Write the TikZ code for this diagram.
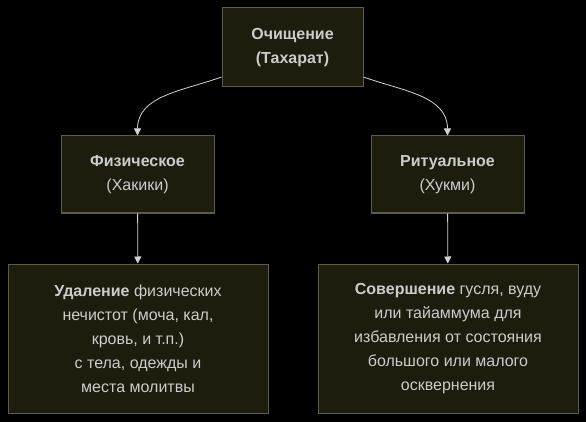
\documentclass[tikz,border=0pt]{standalone}
\usepackage{fontspec}
\setmainfont{Liberation Sans}
\usetikzlibrary{arrows.meta}
\definecolor{bgdark}{HTML}{000000}
\definecolor{boxfill}{HTML}{1E1C0C}
\definecolor{boxline}{HTML}{5A5E42}
\definecolor{txtgray}{HTML}{CCCCCC}
\definecolor{linegray}{HTML}{D3D3D3}

\begin{document}
\begin{tikzpicture}[x=1pt,y=-1pt,
        box/.style={draw=boxline, fill=boxfill, line width=1pt, text=txtgray, align=center,
            font=\fontsize{16}{24}\selectfont, inner sep=0pt},
        edge/.style={draw=linegray, line width=0.8pt, -{Triangle[width=7pt,length=7pt]}}]

            \fill[bgdark] (0,0) rectangle (586,422);
            \useasboundingbox (0,0) rectangle (586,422);

            \node[box, minimum width=141pt, minimum height=79pt] (tahara) at (292.5,47.5) {\textbf{Очищение}\\\textbf{(Тахарат)}};

            \node[box, minimum width=153pt, minimum height=77pt] (haqiqi) at (137.5,174.5) {\textbf{Физическое}\\(Хакики)};
            \node[box, minimum width=153pt, minimum height=77pt] (hukmi) at (447.5,174.5) {\textbf{Ритуальное}\\(Хукми)};

            \node[box, minimum width=260pt, minimum height=149pt] (physdesc) at (138,338.5) {\textbf{Удаление} физических\\нечистот (моча, кал,\\кровь, и т.п.)\\с тела, одежды и\\места молитвы};
            \node[box, minimum width=260pt, minimum height=149pt] (ritdesc) at (448,338.5) {\textbf{Совершение} гусля, вуду\\или тайаммума для\\избавления от состояния\\большого или малого\\осквернения};

            \draw[edge] ([yshift=-29.5pt]tahara.west) to[out=200, in=90] (haqiqi.north);
            \draw[edge] ([yshift=-29.5pt]tahara.east) to[out=-20, in=90] (hukmi.north);

            \draw[edge] (haqiqi) -- (physdesc);
            \draw[edge] (hukmi) -- (ritdesc);
        \end{tikzpicture}
\end{document}
